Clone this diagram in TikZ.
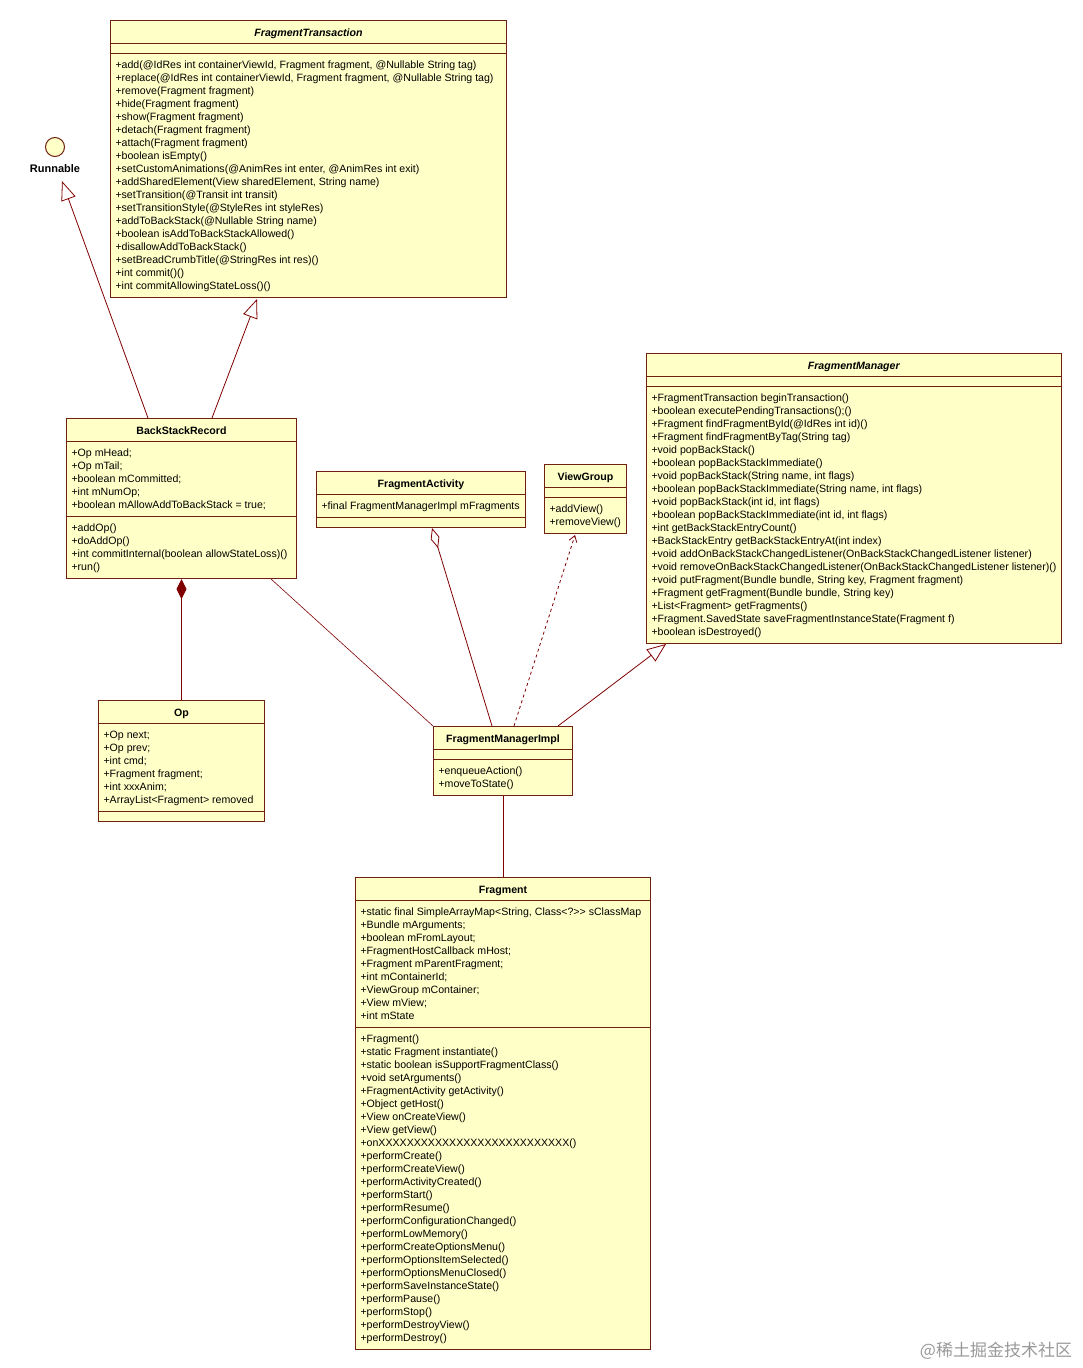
\documentclass[tikz,border=0pt]{standalone}
\usepackage{fontspec}
\setmainfont{Liberation Sans}
\newfontfamily\cjk{Noto Sans CJK SC}
\usetikzlibrary{calc,positioning,arrows.meta,shapes.multipart}
\definecolor{umlfill}{RGB}{255,255,200}
\definecolor{umlborder}{RGB}{112,32,16}
\definecolor{umlline}{RGB}{128,0,0}
\newcommand{\classfont}{\fontsize{10.6}{13}\selectfont}
\newcommand{\ctitle}[1]{\rule[-7pt]{0pt}{22pt}\textbf{#1}}
\newcommand{\cabstract}[1]{\rule[-7pt]{0pt}{22pt}\textbf{\itshape #1}}
\newcommand{\cempty}{\rule{0pt}{9pt}}
\newcommand{\cmembers}[1]{\rule{0pt}{14pt}#1\rule[-8pt]{0pt}{8pt}}
\tikzstyle{umlclass} = [draw=umlborder, fill=umlfill, line width=1pt, rectangle split, rectangle split parts=3, rectangle split part align={center,left,left}, align=left, inner xsep=5pt, inner ysep=0pt, anchor=north west, font=\classfont]
\tikzstyle{assoc} = [draw=umlline, line width=0.8pt]
\tikzstyle{inherit} = [assoc, -{Triangle[open,length=19pt,width=15pt]}]
\tikzstyle{depend} = [assoc, dashed, -{Straight Barb[length=6pt,width=8pt]}]
\tikzstyle{aggreg} = [assoc, {Diamond[open,length=21pt,width=9pt]}-]
\tikzstyle{compos} = [assoc, {Diamond[length=20pt,width=10pt]}-]
\begin{document}
\begin{tikzpicture}[x=1pt, y=-1pt]
    \useasboundingbox[fill=white] (0,0) rectangle (1082,1368);

    % interface
    \node[circle, draw=umlborder, fill=umlfill, line width=1pt, minimum size=19pt, inner sep=0pt] (runnable) at (55,147) {};
    \node[below=4pt of runnable, font=\fontsize{11}{13}\selectfont\bfseries] (runnablelbl) {Runnable};

    % classes
    \node[umlclass, minimum width=396pt] (transaction) at (110,20) {\cabstract{FragmentTransaction}
        \nodepart{second}\cempty
        \nodepart{third}\cmembers{+add(@IdRes int containerViewId, Fragment fragment, @Nullable String tag)\\
        +replace(@IdRes int containerViewId, Fragment fragment, @Nullable String tag)\\
        +remove(Fragment fragment)\\
        +hide(Fragment fragment)\\
        +show(Fragment fragment)\\
        +detach(Fragment fragment)\\
        +attach(Fragment fragment)\\
        +boolean isEmpty()\\
        +setCustomAnimations(@AnimRes int enter, @AnimRes int exit)\\
        +addSharedElement(View sharedElement, String name)\\
        +setTransition(@Transit int transit)\\
        +setTransitionStyle(@StyleRes int styleRes)\\
        +addToBackStack(@Nullable String name)\\
        +boolean isAddToBackStackAllowed()\\
        +disallowAddToBackStack()\\
        +setBreadCrumbTitle(@StringRes int res)()\\
        +int commit()()\\
        +int commitAllowingStateLoss()()}};

    \node[umlclass, minimum width=230pt] (backstack) at (66,418) {\ctitle{BackStackRecord}
        \nodepart{second}\cmembers{+Op mHead;\\
        +Op mTail;\\
        +boolean mCommitted;\\
        +int mNumOp;\\
        +boolean mAllowAddToBackStack = true;}
        \nodepart{third}\cmembers{+addOp()\\
        +doAddOp()\\
        +int commitInternal(boolean allowStateLoss)()\\
        +run()}};

    \node[umlclass, minimum width=209pt] (activity) at (316,471) {\ctitle{FragmentActivity}
        \nodepart{second}\cmembers{+final FragmentManagerImpl mFragments}
        \nodepart{third}\cempty};

    \node[umlclass, minimum width=82pt] (viewgroup) at (544,464) {\ctitle{ViewGroup}
        \nodepart{second}\cempty
        \nodepart{third}\cmembers{+addView()\\
        +removeView()}};

    \node[umlclass, minimum width=415pt] (manager) at (646,353) {\cabstract{FragmentManager}
        \nodepart{second}\cempty
        \nodepart{third}\cmembers{+FragmentTransaction beginTransaction()\\
        +boolean executePendingTransactions();()\\
        +Fragment findFragmentById(@IdRes int id)()\\
        +Fragment findFragmentByTag(String tag)\\
        +void popBackStack()\\
        +boolean popBackStackImmediate()\\
        +void popBackStack(String name, int flags)\\
        +boolean popBackStackImmediate(String name, int flags)\\
        +void popBackStack(int id, int flags)\\
        +boolean popBackStackImmediate(int id, int flags)\\
        +int getBackStackEntryCount()\\
        +BackStackEntry getBackStackEntryAt(int index)\\
        +void addOnBackStackChangedListener(OnBackStackChangedListener listener)\\
        +void removeOnBackStackChangedListener(OnBackStackChangedListener listener)()\\
        +void putFragment(Bundle bundle, String key, Fragment fragment)\\
        +Fragment getFragment(Bundle bundle, String key)\\
        +List<Fragment> getFragments()\\
        +Fragment.SavedState saveFragmentInstanceState(Fragment f)\\
        +boolean isDestroyed()}};

    \node[umlclass, minimum width=166pt] (op) at (98,700) {\ctitle{Op}
        \nodepart{second}\cmembers{+Op next;\\
        +Op prev;\\
        +int cmd;\\
        +Fragment fragment;\\
        +int xxxAnim;\\
        +ArrayList<Fragment> removed}
        \nodepart{third}\cempty};

    \node[umlclass, minimum width=139pt] (managerimpl) at (433,726) {\ctitle{FragmentManagerImpl}
        \nodepart{second}\cempty
        \nodepart{third}\cmembers{+enqueueAction()\\
        +moveToState()}};

    \node[umlclass, minimum width=295pt] (fragment) at (355,877) {\ctitle{Fragment}
        \nodepart{second}\cmembers{+static final SimpleArrayMap<String, Class<?>{}> sClassMap\\
        +Bundle mArguments;\\
        +boolean mFromLayout;\\
        +FragmentHostCallback mHost;\\
        +Fragment mParentFragment;\\
        +int mContainerId;\\
        +ViewGroup mContainer;\\
        +View mView;\\
        +int mState}
        \nodepart{third}\cmembers{+Fragment()\\
        +static Fragment instantiate()\\
        +static boolean isSupportFragmentClass()\\
        +void setArguments()\\
        +FragmentActivity getActivity()\\
        +Object getHost()\\
        +View onCreateView()\\
        +View getView()\\
        +onXXXXXXXXXXXXXXXXXXXXXXXXXXX()\\
        +performCreate()\\
        +performCreateView()\\
        +performActivityCreated()\\
        +performStart()\\
        +performResume()\\
        +performConfigurationChanged()\\
        +performLowMemory()\\
        +performCreateOptionsMenu()\\
        +performOptionsItemSelected()\\
        +performOptionsMenuClosed()\\
        +performSaveInstanceState()\\
        +performPause()\\
        +performStop()\\
        +performDestroyView()\\
        +performDestroy()}};

    % relations
    \draw[inherit] ($(backstack.north west)+(82,0)$) -- ($(runnablelbl.south)+(7,5)$);
    \draw[inherit] ($(backstack.north west)+(146,0)$) -- ($(transaction.south west)+(147,1)$);
    \draw[compos] (backstack.south) -- (op.north);
    \draw[assoc, line width=0.6pt] ($(backstack.south east)+(-26,0)$) -- (managerimpl.north west);
    \draw[aggreg] ($(activity.south west)+(116,0)$) -- ($(managerimpl.north west)+(59,0)$);
    \draw[depend] ($(managerimpl.north west)+(81,0)$) -- ($(viewgroup.south west)+(31,1)$);
    \draw[inherit] ($(managerimpl.north east)+(-15,0)$) -- ($(manager.south west)+(20,0)$);
    \draw[assoc] (managerimpl.south) -- (fragment.north);

    \node[text=black!40, font=\cjk\fontsize{17}{20}\selectfont] (mark) at (996,1351) {@稀土掘金技术社区};

\end{tikzpicture}
\end{document}
